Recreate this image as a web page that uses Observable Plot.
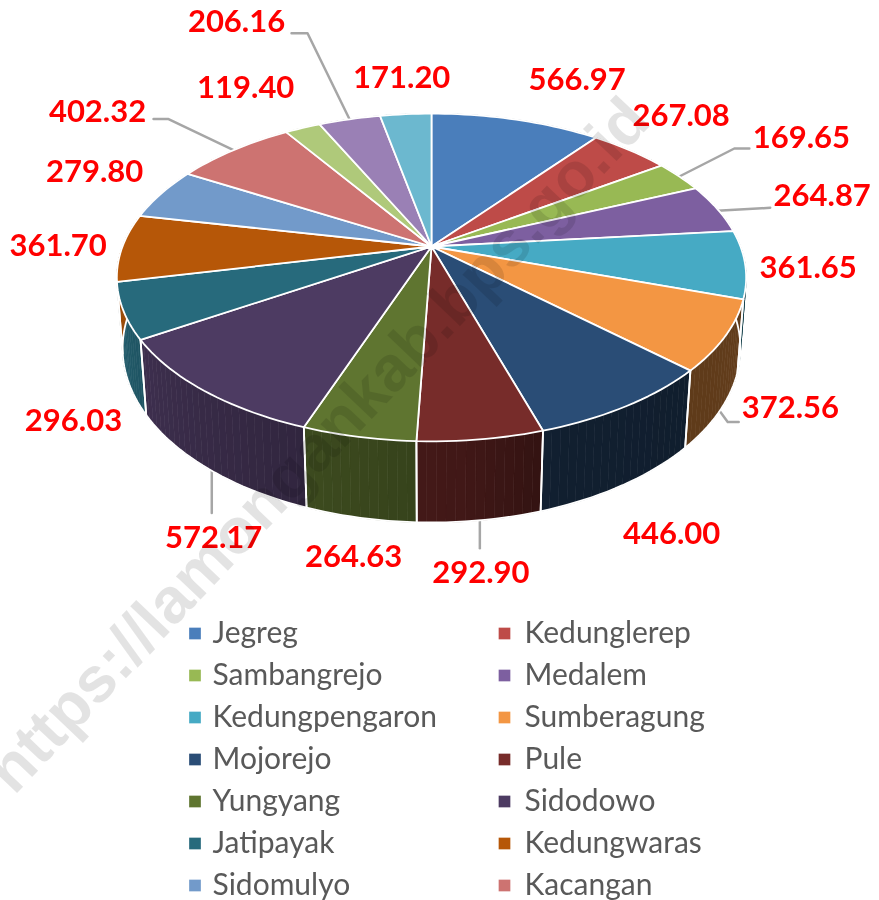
<!DOCTYPE html>
<html>
<head>
<meta charset="utf-8">
<script src="https://cdn.jsdelivr.net/npm/d3@7"></script>
<script src="https://cdn.jsdelivr.net/npm/@observablehq/plot@0.6"></script>
<style>
html,body{margin:0;padding:0;background:#fff}
</style>
</head>
<body>
<div id="chart"></div>
<script>
// ---------- chart values (clockwise from 12 o'clock) ----------
const sliceValues = [566.97,267.08,169.65,264.87,361.65,372.56,446.00,292.90,264.63,572.17,296.03,361.70,279.80,402.32,119.40,206.16,171.20];
// The legend in the picture is cut off after fourteen names
const legendNames = ["Jegreg","Kedunglerep","Sambangrejo","Medalem","Kedungpengaron","Sumberagung","Mojorejo","Pule","Yungyang","Sidodowo","Jatipayak","Kedungwaras","Sidomulyo","Kacangan"];
const watermark = "https://lamongankab.bps.go.id";

// ---------- styles and layout (kept apart from the values) ----------
const palette = ["#4a7ebb","#be4b48","#98b954","#7d5fa0","#46aac4","#f39643","#2a4d76","#772c2a","#5f7530","#4d3b62","#276a7c","#b65708","#729aca","#cd7371","#afc97a","#9a80b5","#6cb8cf"];
// label centre offset from the slice's rim midpoint
const labelOffsets = [[61,-40],[51,-34],[122,-38],[105,-13],[63,4],[65,72],[45,128],[0,134],[-5,120],[9.5,147],[-50,110],[-64,-2],[-66.5,-22],[-136,-38.5],[-57,-39.5],[-113,-97],[-4,-36]];
// leader lines: slice index, starts on the lower rim?, elbow offsets from start
const leaders = [
  {i:2,low:false,path:[[0,0],[55,-28],[70,-28]]},
  {i:3,low:false,path:[[0,2],[53,-1]]},
  {i:5,low:true,path:[[0,0],[8,11],[19,11]]},
  {i:7,low:true,path:[[0,0],[0,28]]},
  {i:9,low:true,path:[[3,0],[3,44]]},
  {i:13,low:false,path:[[0,0],[-65,-31],[-80,-31]]},
  {i:15,low:false,path:[[0,0],[-42,-86],[-58,-86]]}
];
const W = 879, H = 900;
const cx = 431, cy = 246, B = 309, A = 158, persp = 0.189, drop = 70.8, recede = 0.018;
const rad = d => d * Math.PI / 180;
const topPoint = t => { const u=Math.sin(rad(t)), v=Math.cos(rad(t)), w=1+persp*v; return [cx+B*u/w, cy-A*v/w]; };
const lowPoint = t => { const u=Math.sin(rad(t)), v=Math.cos(rad(t)), w=1+persp*v+recede; return [cx+B*u/w, cy+(-A*v+drop)/w]; };
const shade = d3.scaleLinear().domain([0,95,130,160,175,195,225,250,275,360]).range([.6,.42,.39,.4,.54,.62,.74,.85,.9,.6]);

const total = d3.sum(sliceValues);
let running = 0;
const slices = sliceValues.map((value,i) => {
  const a0 = running/total*360; running += value; const a1 = running/total*360;
  return {i,value,a0,a1,mid:(a0+a1)/2,color:palette[i]};
});
const arcAngles = s => { const n=Math.max(2,Math.ceil((s.a1-s.a0)/1.5)); return d3.range(n+1).map(k=>s.a0+(s.a1-s.a0)*k/n); };

const topRows = slices.flatMap(s => [[cx,cy],...arcAngles(s).map(topPoint),[cx,cy]].map(p=>({id:s.i,color:s.color,x:p[0],y:p[1]})));
const stripRows = slices.flatMap(s => {
  const as = arcAngles(s);
  return as.slice(1).flatMap((a,k) => {
    const c = d3.rgb(s.color), f = shade((a+as[k])/2);
    const col = d3.rgb(c.r*f,c.g*f,c.b*f).formatHex();
    return [topPoint(as[k]),topPoint(a),lowPoint(a),lowPoint(as[k]),topPoint(as[k])].map(p=>({id:s.i+"-"+k,color:col,x:p[0],y:p[1]}));
  });
});
const sideOutline = slices.flatMap(s => {
  const as = arcAngles(s);
  return [topPoint(s.a0),...as.map(lowPoint),topPoint(s.a1)].map(p=>({id:s.i,x:p[0],y:p[1]}));
});
const labelRows = slices.map((s,i) => {
  const p = topPoint(s.mid);
  return {x:p[0]+labelOffsets[i][0], y:p[1]+labelOffsets[i][1], text:s.value.toFixed(2)};
});
const leaderRows = leaders.flatMap((l,n) => {
  const p = (l.low?lowPoint:topPoint)(slices[l.i].mid);
  return l.path.map(o=>({id:n,x:p[0]+o[0],y:p[1]+o[1]}));
});
const legendRows = legendNames.map((name,i) => ({
  name,color:palette[i],
  x:[194.5,504][i%2], tx:[212,524][i%2], y:633+42*Math.floor(i/2)
}));

const plot = Plot.plot({
  width:W,height:H,margin:0,
  style:{background:"#fff",filter:"blur(0.5px)"},
  x:{axis:null,domain:[0,W],range:[0,W]},
  y:{axis:null,domain:[0,H],range:[0,H]},
  color:{type:"identity"},
  marks:[
    Plot.line(leaderRows,{x:"x",y:"y",z:"id",stroke:"#a6a6a6",strokeWidth:2.5,curve:"linear"}),
    Plot.line(stripRows,{x:"x",y:"y",z:"id",fill:"color",stroke:"color",strokeWidth:.6,curve:"linear"}),
    Plot.line(sideOutline,{x:"x",y:"y",z:"id",stroke:"#fff",strokeWidth:1.8,curve:"linear"}),
    Plot.line(topRows,{x:"x",y:"y",z:"id",fill:"color",stroke:"#fff",strokeWidth:1.8,strokeLinejoin:"round",curve:"linear"}),
    Plot.text(labelRows,{x:"x",y:"y",text:"text",fill:"#ff0000",fontSize:31,fontWeight:700,fontFamily:"Lato",textAnchor:"middle",lineAnchor:"middle"}),
    Plot.dot(legendRows,{x:"x",y:"y",symbol:"square",r:6.6,fill:"color",stroke:null}),
    Plot.text(legendRows,{x:"tx",y:"y",text:"name",fill:"#595959",fontSize:30,fontFamily:"Lato",textAnchor:"start",lineAnchor:"middle"}),
    Plot.text([watermark],{x:()=>318,y:()=>445,text:d=>d,rotate:-46.5,fontSize:64,fontWeight:700,fontFamily:"Liberation Sans",fill:"#000",fillOpacity:.11,textAnchor:"middle",lineAnchor:"middle"})
  ]
});
document.getElementById("chart").appendChild(plot);
</script>
</body>
</html>
